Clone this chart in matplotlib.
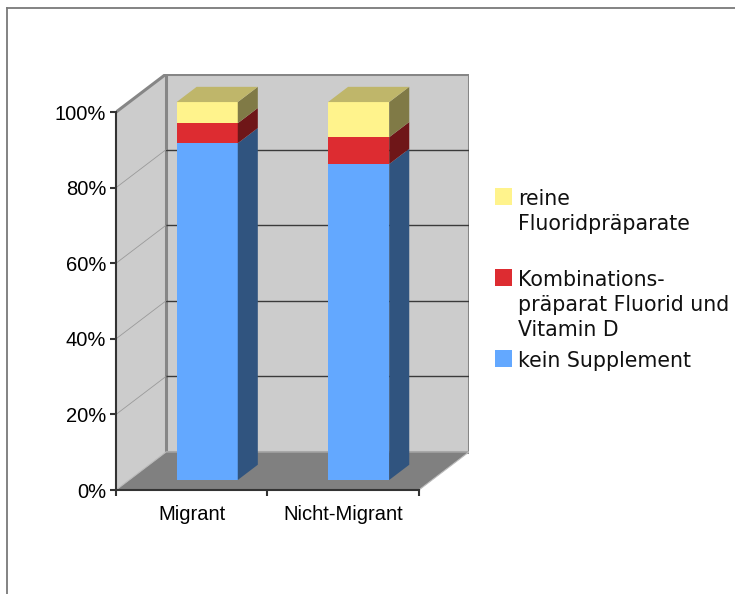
import matplotlib.pyplot as plt
import numpy as np
from matplotlib.patches import Polygon, Rectangle
from matplotlib.lines import Line2D

categories = ["Migrant", "Nicht-Migrant"]
series = ["kein Supplement",
          "Kombinations-\npräparat Fluorid und\nVitamin D",
          "reine\nFluoridpräparate"]
kein = [89.1, 83.6]
kombi = [5.3, 7.1]
rein = [5.6, 9.3]
values = [kein, kombi, rein]

front_cols = ["#63A8FF", "#DD2C31", "#FFF38C"]
side_cols = ["#30547F", "#6F1618", "#807A46"]
top_col = "#BFB66A"

# 3d look: depth offset of back wall in data units
DX, DY = 0.331, 10.08
d0, d1 = 0.263, 0.663   # bar depth range (0 = front, 1 = back wall)
bw = 0.404

W, H = 735, 594
fig = plt.figure(figsize=(W / 100, H / 100), dpi=100)
n = len(categories)
ax = fig.add_axes([116 / W, 1 - 490 / H, (469 - 116) / W, (490 - 74) / H])
ax.set_xlim(0, n + DX)
ax.set_ylim(0, 100 + DY)
ax.patch.set_visible(False)

# walls and floor
ax.add_patch(Polygon([(0, 0), (DX, DY), (DX, DY + 100), (0, 100)], closed=True,
                     facecolor="#CCCCCC", edgecolor="none", zorder=0))
ax.add_patch(Rectangle((DX, DY), n, 100, facecolor="#CCCCCC", edgecolor="#868686",
                       linewidth=2.2, zorder=0))
ax.plot([0, DX], [100, DY + 100], color="#868686", lw=2.2, zorder=0.5, solid_capstyle="round")
for t in range(20, 100, 20):
    ax.plot([DX, DX + n], [t + DY, t + DY], color="#3a3a3a", lw=1.0, zorder=0.6)
    ax.plot([0, DX], [t, t + DY], color="#9a9a9a", lw=0.6, zorder=0.6)
ax.add_patch(Polygon([(0, 0), (n, 0), (n + DX, DY), (DX, DY)], closed=True,
                     facecolor="#808080", edgecolor="#BBBBBB", linewidth=0.8, zorder=0.7))

# stacked 3d bars
x = np.arange(n) + 0.515
sx, sy = d0 * DX, d0 * DY
ddx, ddy = (d1 - d0) * DX, (d1 - d0) * DY
bottom = np.zeros(n)
for k, vals in enumerate(values):
    vals = np.array(vals)
    ax.bar(x + sx, vals, bottom=bottom + sy, width=bw, color=front_cols[k],
           linewidth=0, zorder=2)
    for i in range(n):
        xr = x[i] + sx + bw / 2
        b, t = bottom[i] + sy, bottom[i] + vals[i] + sy
        ax.add_patch(Polygon([(xr, b), (xr + ddx, b + ddy), (xr + ddx, t + ddy), (xr, t)],
                             closed=True, facecolor=side_cols[k], edgecolor="none", zorder=2))
    bottom = bottom + vals
for i in range(n):
    xl = x[i] + sx - bw / 2
    xr = xl + bw
    t = bottom[i] + sy
    ax.add_patch(Polygon([(xl, t), (xr, t), (xr + ddx, t + ddy), (xl + ddx, t + ddy)],
                         closed=True, facecolor=top_col, edgecolor="none", zorder=2))

# axes
for s in ["top", "right"]:
    ax.spines[s].set_visible(False)
ax.spines["left"].set_bounds(0, 100)
ax.spines["bottom"].set_bounds(0, n)
for s in ["left", "bottom"]:
    ax.spines[s].set_color("#333333")
    ax.spines[s].set_linewidth(1.5)
    ax.spines[s].set_zorder(3)
ax.set_yticks(range(0, 101, 20))
ax.set_yticklabels([f"{v}%" for v in range(0, 101, 20)], fontfamily="Liberation Sans", fontsize=14.5)
ax.set_xticks(range(n + 1))
ax.set_xticklabels([])
ax.set_xticks(np.arange(n) + 0.5, minor=True)
ax.set_xticklabels(categories, minor=True, fontfamily="Liberation Sans", fontsize=14.5)
ax.tick_params(axis="y", length=4, width=1.5, color="#333333", pad=3)
ax.tick_params(axis="x", which="major", length=4, width=1.5, color="#333333")
ax.tick_params(axis="x", which="minor", length=0, pad=11)

# legend
leg = [(2, 188), (1, 269), (0, 350)]
for k, ytop in leg:
    fig.patches.append(Rectangle((495 / W, 1 - (ytop + 16.5) / H), 16.5 / W, 16.5 / H,
                                 transform=fig.transFigure, facecolor=front_cols[k],
                                 edgecolor="none"))
    fig.text(518 / W, 1 - (ytop + 1) / H, series[k], fontsize=14.8, fontfamily="DejaVu Sans",
             va="top", ha="left", linespacing=1.3, color="#111111")

# outer frame
fig.add_artist(Line2D([7 / W, 7 / W], [0, 1 - 7.5 / H], transform=fig.transFigure,
                      color="#7a7a7a", lw=1.3))
fig.add_artist(Line2D([7 / W, 1], [1 - 7.5 / H, 1 - 7.5 / H], transform=fig.transFigure,
                      color="#7a7a7a", lw=1.3))

fig.savefig("out.png", dpi=100)
